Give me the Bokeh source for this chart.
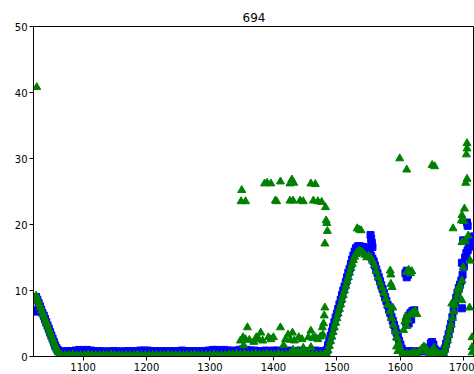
from bokeh.plotting import figure
from bokeh.models import FixedTicker, ColumnDataSource
from bokeh.embed import file_html
from bokeh.resources import INLINE

title_text = "694"
x_ticks = [1100, 1200, 1300, 1400, 1500, 1600, 1700]
y_ticks = [0, 10, 20, 30, 40, 50]

# ---- blue squares ----
blue_x = [1024, 1025,
          1026, 1028, 1030, 1032, 1034, 1036, 1038, 1040, 1042, 1044, 1046, 1048, 1050, 1052, 1054, 1056, 1058, 1060, 1062,
          1064, 1070, 1076, 1082, 1088, 1094, 1100, 1106, 1112, 1118, 1124, 1130, 1136, 1142, 1148, 1154, 1160, 1166,
          1172, 1178, 1184, 1190, 1196, 1202, 1208, 1214, 1220, 1226, 1232, 1238, 1244, 1250, 1256, 1262, 1268, 1274,
          1280, 1286, 1292, 1298, 1304, 1310, 1316, 1322, 1328, 1334, 1340, 1346, 1352, 1358, 1364, 1370, 1376, 1382,
          1388, 1394, 1400, 1406, 1412, 1418, 1424, 1430, 1436, 1442, 1448, 1454, 1460, 1466, 1472, 1478, 1481, 1483,
          1484, 1486, 1488, 1490, 1492, 1494, 1496, 1498, 1500, 1502, 1504, 1506, 1508, 1510, 1512, 1514, 1516, 1518,
          1520, 1522, 1524, 1526, 1528, 1530, 1533, 1536, 1539, 1542, 1545, 1548, 1550, 1552, 1554, 1556, 1558,
          1553, 1554, 1555, 1556,
          1560, 1562, 1564, 1566, 1568, 1570, 1572, 1574, 1576, 1578, 1580, 1582, 1584, 1586, 1588, 1590, 1592, 1594,
          1596, 1598, 1600, 1602, 1604,
          1608, 1610, 1612, 1610, 1609, 1611, 1613, 1616, 1619, 1622, 1613, 1617,
          1606, 1610, 1614, 1618, 1622, 1626, 1630, 1634, 1638, 1642, 1646, 1648, 1650, 1652, 1654, 1658, 1662, 1666,
          1668, 1670, 1672, 1674, 1676, 1678, 1680, 1682, 1684, 1686, 1688, 1690, 1692, 1694, 1696, 1698, 1700, 1702,
          1704, 1706, 1708, 1710, 1712, 1714, 1716,
          1697, 1697, 1699, 1705, 1706]
blue_y = [7.0, 6.8,
          9.0, 8.6, 8.1, 7.6, 7.1, 6.6, 6.2, 5.7, 5.2, 4.7, 4.2, 3.7, 3.2, 2.7, 2.2, 1.7, 1.3, 1.0, 0.8,
          0.7, 0.8, 0.8, 0.8, 0.9, 1.0, 0.9, 1.0, 0.9, 0.8, 0.8, 0.8, 0.7, 0.8, 0.8, 0.8, 0.7, 0.8,
          0.8, 0.8, 0.8, 0.9, 0.9, 0.9, 0.8, 0.8, 0.8, 0.8, 0.8, 0.8, 0.8, 0.8, 0.9, 0.8, 0.8, 0.8,
          0.8, 0.8, 0.8, 0.9, 1.0, 1.0, 0.9, 1.0, 0.9, 0.9, 0.8, 1.0, 1.1, 1.0, 0.9, 0.9, 0.8, 0.8,
          0.9, 0.8, 0.9, 0.9, 0.8, 0.8, 0.9, 0.8, 0.8, 0.9, 0.8, 0.8, 0.8, 0.9, 0.8, 0.8, 0.4, 0.3,
          1.0, 1.7, 2.4, 3.1, 3.8, 4.5, 5.2, 5.9, 6.5, 7.2, 7.9, 8.6, 9.3, 10.0, 10.6, 11.3, 12.0, 12.7,
          13.3, 14.0, 14.7, 15.3, 15.9, 16.4, 16.7, 16.7, 16.6, 16.6, 16.5, 16.3, 16.0, 15.6, 15.2, 14.8, 14.4,
          18.4, 17.8, 17.2, 16.6,
          13.8, 13.2, 12.6, 12.0, 11.4, 10.8, 10.2, 9.6, 9.0, 8.4, 7.8, 7.2, 6.6, 6.0, 5.4, 4.8, 4.2, 3.6,
          3.0, 2.4, 1.8, 1.2, 0.8,
          12.6, 13.0, 12.4, 12.0, 5.2, 5.8, 6.2, 6.6, 6.9, 7.0, 5.0, 5.6,
          0.7, 0.7, 0.8, 0.8, 0.7, 0.7, 0.8, 0.8, 0.8, 0.9, 1.3, 2.0, 2.2, 1.8, 1.1, 0.8, 0.7, 0.6,
          0.7, 1.2, 1.9, 2.6, 3.4, 4.2, 5.0, 6.0, 7.0, 8.0, 8.9, 9.7, 10.4, 10.9, 11.5, 12.4, 13.6, 15.0,
          15.7, 16.1, 16.6, 17.1, 17.5, 17.9, 18.2,
          7.3, 14.2, 17.6, 20.3, 19.8]

# ---- green triangles ----
green_x = [1027,
           1026, 1027, 1029, 1031, 1033, 1035, 1037, 1039, 1041, 1043, 1045, 1047, 1049, 1051, 1053, 1055, 1057, 1059,
           1061, 1063,
           1066, 1072, 1078, 1084, 1090, 1096, 1102, 1108, 1114, 1120, 1126, 1132, 1138, 1144, 1150, 1156, 1162, 1168,
           1174, 1180, 1186, 1192, 1198, 1204, 1210, 1216, 1222, 1228, 1234, 1240, 1246, 1252, 1258, 1264, 1270, 1276,
           1282, 1288, 1294, 1300, 1306, 1312, 1318, 1324, 1330, 1336, 1342, 1348, 1354, 1360, 1366, 1372, 1378, 1384,
           1390, 1396, 1402, 1408, 1414, 1420, 1426, 1432, 1438, 1444, 1450, 1456, 1462, 1468, 1474, 1480,
           1350, 1349, 1356, 1386, 1390, 1396, 1403, 1405, 1411, 1426, 1429, 1432, 1426, 1431, 1442, 1447, 1459, 1466,
           1463, 1470, 1476, 1482, 1483, 1484, 1485, 1481,
           1359, 1348, 1352, 1356, 1362, 1353, 1369, 1373, 1377, 1380, 1383, 1392, 1396, 1400, 1411, 1416, 1419, 1423,
           1427, 1430, 1433, 1440, 1445, 1431, 1438, 1447, 1455, 1459, 1462, 1459, 1466, 1470, 1474, 1477, 1479, 1480,
           1481, 1478,
           1484, 1486, 1488, 1490, 1492, 1494, 1496, 1498, 1500, 1502, 1504, 1506, 1508, 1510, 1512, 1514, 1516, 1518,
           1520, 1522, 1524, 1526, 1528, 1530, 1532, 1535, 1538, 1541, 1544, 1547, 1550, 1553, 1556, 1559, 1562, 1565,
           1568, 1571, 1574, 1577, 1580, 1583, 1586, 1589, 1592, 1595, 1598, 1601, 1604,
           1532, 1535, 1538,
           1584, 1585, 1585, 1587, 1588, 1594, 1594, 1596, 1599, 1610, 1650, 1654, 1610, 1613, 1616, 1618, 1605, 1607,
           1609, 1612, 1615, 1619, 1623, 1626, 1610,
           1606, 1610, 1614, 1618, 1622, 1626, 1630, 1634, 1637, 1640, 1643, 1646, 1650, 1653, 1656, 1660, 1664,
           1668, 1670, 1672, 1674, 1676, 1678, 1680, 1682, 1684, 1686, 1688, 1690, 1692, 1694,
           1681, 1683, 1691, 1696, 1697, 1697, 1697, 1697, 1699, 1701, 1703, 1705, 1704, 1705, 1705, 1707, 1709, 1710,
           1713, 1713, 1713, 1700, 1702]
green_y = [40.8,
           9.2, 8.8, 8.4, 7.9, 7.4, 6.9, 6.4, 5.9, 5.4, 4.9, 4.4, 3.9, 3.4, 2.9, 2.4, 1.9, 1.4, 1.0,
           0.6, 0.3,
           0.2, 0.2, 0.2, 0.3, 0.2, 0.2, 0.2, 0.3, 0.2, 0.2, 0.2, 0.2, 0.2, 0.3, 0.2, 0.2, 0.2, 0.2,
           0.2, 0.2, 0.3, 0.2, 0.2, 0.2, 0.2, 0.2, 0.2, 0.2, 0.3, 0.2, 0.2, 0.2, 0.2, 0.2, 0.2, 0.3,
           0.2, 0.2, 0.2, 0.2, 0.3, 0.2, 0.2, 0.2, 0.3, 0.3, 0.4, 0.3, 0.4, 0.3, 0.3, 0.4, 0.3, 0.3,
           0.4, 0.3, 0.3, 0.4, 0.3, 0.3, 0.4, 0.3, 0.3, 0.3, 0.4, 0.3, 0.3, 0.3, 0.3, 0.3,
           25.2, 23.5, 23.5, 26.2, 26.3, 26.2, 23.6, 23.5, 26.5, 26.2, 26.8, 26.3, 23.6, 23.6, 23.6, 23.5, 26.2, 26.1,
           23.6, 23.5, 23.4, 22.6, 20.6, 20.2, 19.0, 17.1,
           4.4, 2.4, 2.9, 2.6, 2.5, 1.7, 2.2, 2.9, 2.6, 3.6, 2.4, 2.9, 2.6, 2.9, 4.4, 1.7, 2.6, 3.3,
           2.5, 3.6, 2.4, 2.9, 2.6, 1.0, 0.8, 1.3, 2.9, 3.9, 2.8, 1.4, 2.9, 2.6, 3.0, 4.4, 5.0, 6.2,
           7.4, 3.3,
           0.3, 0.9, 1.6, 2.3, 3.0, 3.7, 4.4, 5.1, 5.8, 6.5, 7.2, 7.9, 8.6, 9.3, 10.0, 10.7, 11.4, 12.0,
           12.7, 13.4, 14.0, 14.6, 15.1, 15.5, 15.8, 16.0, 15.9, 15.7, 15.4, 15.0, 15.2, 15.0, 14.5, 13.8, 12.9, 12.0,
           11.2, 10.4, 9.6, 8.7, 7.8, 6.8, 5.8, 4.8, 3.8, 2.8, 1.9, 1.0, 0.4,
           19.4, 19.2, 19.1,
           13.0, 12.4, 11.0, 10.5, 7.4, 2.9, 1.5, 0.8, 30.0, 28.3, 29.0, 28.8, 12.8, 13.1, 12.6, 12.9, 4.0, 5.3,
           6.0, 5.5, 6.3, 6.6, 6.9, 6.4, 4.6,
           0.3, 0.4, 0.3, 0.5, 0.6, 0.4, 0.8, 1.2, 1.5, 1.3, 0.8, 0.5, 0.9, 1.3, 0.7, 0.4, 0.3,
           0.4, 1.0, 1.7, 2.4, 3.2, 4.0, 4.8, 5.8, 6.8, 7.8, 8.6, 9.4, 10.1, 10.7,
           8.0, 19.4, 10.3, 20.6, 21.4, 17.3, 11.5, 8.5, 13.5, 22.4, 26.3, 26.9, 30.6, 31.5, 32.3, 18.3, 7.4, 14.5,
           2.9, 1.4, 0.6, 20.5, 17.5]

blue_src = ColumnDataSource(data=dict(x=blue_x, y=blue_y))
green_src = ColumnDataSource(data=dict(x=green_x, y=green_y))

p = figure(width=474, height=374, x_range=(1021.9, 1716.8), y_range=(0, 50),
           output_backend="svg", toolbar_location=None, title=title_text,
           min_border_left=33, min_border_right=0, min_border_top=26, min_border_bottom=18)

p.title.align = "center"
p.title.text_font = "DejaVu Sans"
p.title.text_font_size = "12px"
p.title.text_font_style = "normal"
p.title.text_color = "black"

p.grid.visible = False
p.outline_line_color = "black"
p.outline_line_width = 1
p.background_fill_color = "white"
p.border_fill_color = "white"

for ax in (p.xaxis[0], p.yaxis[0]):
    ax.axis_line_color = "black"
    ax.major_tick_line_color = "black"
    ax.major_tick_out = 4
    ax.major_tick_in = 0
    ax.minor_tick_line_color = None
    ax.major_label_text_font = "DejaVu Sans"
    ax.major_label_text_font_size = "10px"
    ax.major_label_text_color = "black"
    ax.major_label_standoff = 2

p.xaxis[0].ticker = FixedTicker(ticks=x_ticks)
p.yaxis[0].ticker = FixedTicker(ticks=y_ticks)

p.scatter("x", "y", source=blue_src, marker="square", size=7, fill_color="blue", line_color="blue")
p.scatter("x", "y", source=green_src, marker="triangle", size=8, fill_color="green", line_color="green")

open("out.html", "w").write(file_html(p, INLINE))
